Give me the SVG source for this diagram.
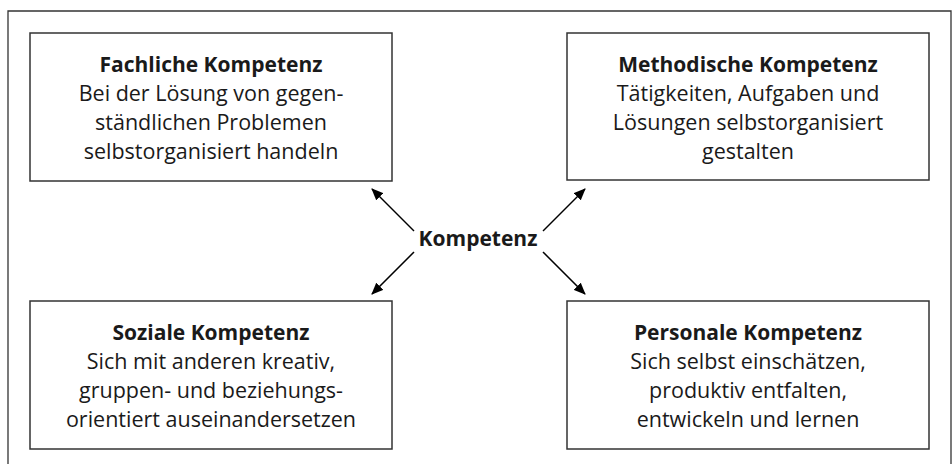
<svg xmlns="http://www.w3.org/2000/svg" width="952" height="464" viewBox="0 0 952 464">
<style>
.box{fill:#fff;stroke:#333;stroke-width:1.5}
.frame{fill:none;stroke:#333;stroke-width:1.3}
text{font-family:"Open Sans","Noto Sans","Liberation Sans",sans-serif;fill:#1a1a1a;text-anchor:middle;font-size:21.5px}
.t{font-weight:bold;font-size:21px}
.c line{stroke:#000;stroke-width:1.5}
</style>
<defs>
<marker id="ah" markerWidth="12" markerHeight="10" refX="11" refY="5" orient="auto" markerUnits="userSpaceOnUse">
<path d="M0,0 L12,5 L0,10 Z" fill="#000"/>
</marker>
</defs>
<rect width="952" height="464" fill="#fff"/>
<path class="frame" d="M8,470 V11 H951 V470"/>
<g class="c">
<line x1="414" y1="231" x2="372" y2="189" marker-end="url(#ah)"/>
<line x1="543" y1="231" x2="585" y2="189" marker-end="url(#ah)"/>
<line x1="414" y1="252" x2="372" y2="294" marker-end="url(#ah)"/>
<line x1="543" y1="252" x2="585" y2="294" marker-end="url(#ah)"/>
</g>
<g id="fachlich">
<rect class="box" x="30" y="33" width="362" height="148"/>
<text x="211" y="72" class="t">Fachliche Kompetenz</text>
<text x="211" y="101">Bei der Lösung von gegen-</text>
<text x="211" y="130">ständlichen Problemen</text>
<text x="211" y="159">selbstorganisiert handeln</text>
</g>
<g id="methodisch">
<rect class="box" x="567" y="33" width="362" height="147"/>
<text x="748" y="72" class="t">Methodische Kompetenz</text>
<text x="748" y="101">Tätigkeiten, Aufgaben und</text>
<text x="748" y="130">Lösungen selbstorganisiert</text>
<text x="748" y="159">gestalten</text>
</g>
<g id="kompetenz">
<text x="478" y="246" class="t">Kompetenz</text>
</g>
<g id="sozial">
<rect class="box" x="30" y="301" width="362" height="148"/>
<text x="211" y="340" class="t">Soziale Kompetenz</text>
<text x="211" y="369">Sich mit anderen kreativ,</text>
<text x="211" y="398">gruppen- und beziehungs-</text>
<text x="211" y="427">orientiert auseinandersetzen</text>
</g>
<g id="personal">
<rect class="box" x="567" y="301" width="362" height="148"/>
<text x="748" y="340" class="t">Personale Kompetenz</text>
<text x="748" y="369">Sich selbst einschätzen,</text>
<text x="748" y="398">produktiv entfalten,</text>
<text x="748" y="427">entwickeln und lernen</text>
</g>
</svg>
